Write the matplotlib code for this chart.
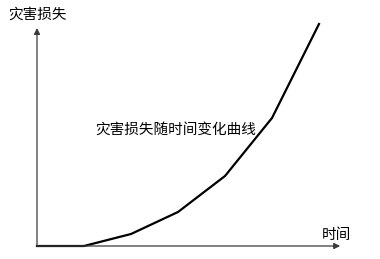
import matplotlib
matplotlib.use("Agg")
import matplotlib.pyplot as plt

plt.rcParams['font.family'] = ['Noto Sans CJK SC', 'DejaVu Sans']

# Time steps and cumulative disaster loss
time_steps = [0, 1, 2, 3, 4, 5, 6]
loss = [0, 0, 12, 34, 70, 128, 222]

y_label = "灾害损失"
x_label = "时间"
curve_label = "灾害损失随时间变化曲线"

W, H = 380, 259
fig = plt.figure(figsize=(W / 100, H / 100), dpi=100)
ax = fig.add_axes([0, 0, 1, 1])
ax.set_xlim(-37 / 47, (W - 37) / 47)
ax.set_ylim(-13, 246)
ax.axis("off")

axis_color = "#3a3a3a"
arrow = dict(arrowstyle="-|>", mutation_scale=9, color=axis_color, lw=0.9,
             shrinkA=0, shrinkB=0)
# vertical axis
ax.annotate("", xy=(0, 218), xytext=(0, 0), arrowprops=arrow)
# horizontal axis
ax.annotate("", xy=(6.45, 0), xytext=(0, 0), arrowprops=arrow)

ax.plot(time_steps, loss, color="black", lw=1.6, solid_joinstyle="miter")

ax.text(-0.62, 231, y_label, fontsize=10.5, ha="left", va="center")
ax.text(6.05, 11, x_label, fontsize=10.5, ha="left", va="center")
ax.text(1.23, 116, curve_label, fontsize=10.5, ha="left", va="center")

fig.savefig("out.png", dpi=100, facecolor="white")
